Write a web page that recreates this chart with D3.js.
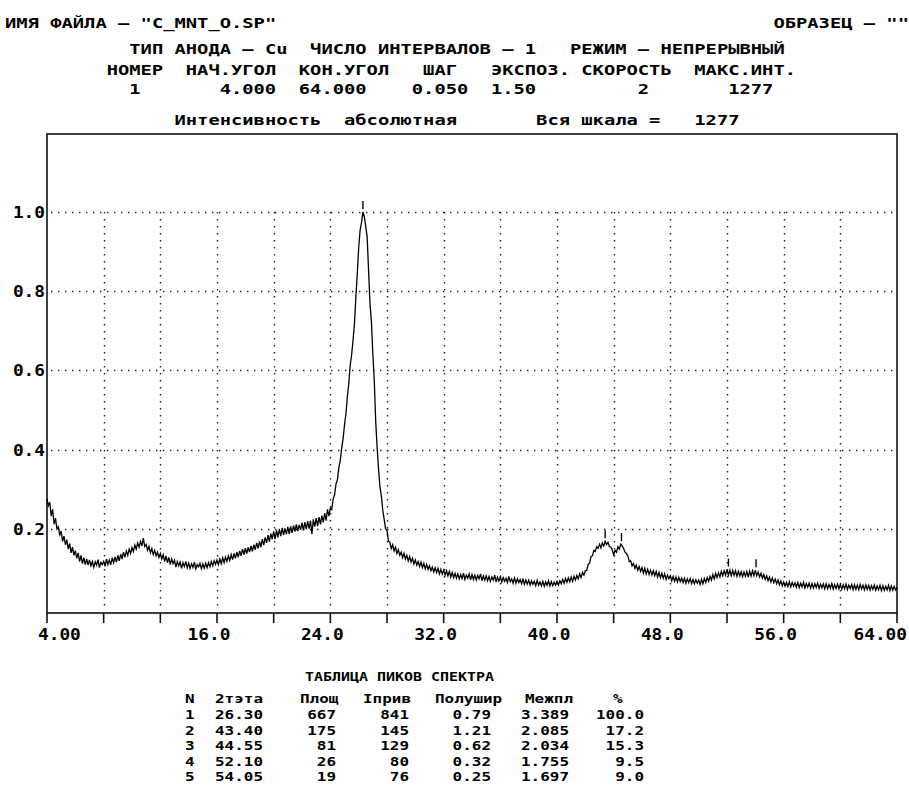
<!DOCTYPE html>
<html>
<head>
<meta charset="utf-8">
<script src="https://cdn.jsdelivr.net/npm/d3@7"></script>
<style>
	body { margin: 0; background: #fff; }
	svg text { font-family: "DejaVu Sans Mono", monospace; font-weight: bold; fill: #000; white-space: pre; }
</style>
</head>
<body>
<svg id="chart"></svg>
<script>
// header of the spectrum file
const headerLine1 = ['ИМЯ ФАЙЛА – "C_MNT_O.SP"', 'ОБРАЗЕЦ – ""'];
const headerLine2 = ['ТИП АНОДА – Cu', 'ЧИСЛО ИНТЕРВАЛОВ – 1', 'РЕЖИМ – НЕПРЕРЫВНЫЙ'];
const paramNames = ['НОМЕР', 'НАЧ.УГОЛ', 'КОН.УГОЛ', 'ШАГ', 'ЭКСПОЗ.', 'СКОРОСТЬ', 'МАКС.ИНТ.'];
const paramValues = ['1', '4.000', '64.000', '0.050', '1.50', '2', '1277'];
const scaleLine = ['Интенсивность  абсолютная', 'Вся шкала =', '1277'];

// scan (counts, every 0.1 deg)
const fullScale = 1277;
const startAngle = 4.0;
const endAngle = 64.0;
const sampleStep = 0.1;
const counts = [
	352,330,341,296,318,270,290,255,262,236,
	248,215,232,204,220,190,208,178,196,170,
	185,160,178,150,170,143,162,140,158,138,
	155,136,150,132,149,138,156,130,147,140,
	150,134,158,140,155,139,162,146,165,148,
	170,152,174,158,180,163,184,170,190,176,
	195,182,203,190,210,196,214,200,225,198,
	205,186,199,178,192,172,186,168,180,163,
	176,158,172,150,168,146,163,140,158,143,
	154,132,150,136,148,128,146,134,150,130,
	145,128,143,131,148,126,140,133,144,127,
	142,128,145,130,146,133,150,136,152,140,
	155,140,158,143,162,146,164,150,168,153,
	172,156,176,160,180,164,184,168,190,172,
	193,175,196,180,200,183,204,188,210,192,
	215,196,222,203,228,210,235,214,240,222,
	247,222,250,228,255,232,258,235,257,238,
	262,238,263,242,266,246,270,248,268,252,
	275,250,277,254,280,256,282,238,286,262,
	290,264,293,270,298,276,306,282,318,296,
	322,318,352,365,400,414,452,476,515,546,
	590,626,680,724,782,815,862,915,1000,1076,
	1160,1218,1242,1277,1262,1230,1196,1088,980,924,
	820,736,604,520,450,392,362,316,286,256,
	250,216,212,192,204,184,196,176,188,170,
	180,162,176,158,170,152,166,148,160,142,
	155,138,150,134,148,130,144,126,140,124,
	136,120,132,116,130,114,128,110,125,109,
	122,106,120,104,118,100,115,98,112,96,
	110,94,108,95,112,92,106,96,110,91,
	108,92,106,90,105,94,110,88,104,90,
	104,88,102,86,100,90,106,84,99,87,
	100,84,98,86,96,82,102,85,94,80,
	97,80,94,82,92,78,95,76,90,77,
	90,74,88,76,86,72,89,74,84,71,
	86,70,84,73,88,71,85,72,83,74,
	86,74,88,78,92,80,95,83,97,85,
	100,86,102,90,105,94,110,98,115,106,
	120,122,140,145,166,168,186,182,198,192,
	206,194,210,200,215,204,212,198,196,188,
	172,186,180,198,190,206,200,192,180,176,
	168,150,152,136,144,128,138,122,134,118,
	130,112,128,110,125,108,122,106,120,104,
	118,100,115,98,112,96,110,92,106,94,
	104,88,102,86,100,84,99,85,97,82,
	96,80,94,82,95,79,92,78,91,80,
	90,76,92,78,95,82,98,86,102,90,
	108,94,112,98,114,100,118,104,120,106,
	124,106,122,104,121,105,120,102,118,103,
	117,101,116,102,118,100,119,103,120,104,
	122,104,116,100,112,96,108,92,104,88,
	100,84,97,82,93,78,90,75,87,72,
	84,70,83,69,85,68,82,70,81,67,
	82,66,80,68,83,65,79,67,80,64,
	79,64,78,66,80,63,77,65,78,62,
	78,62,76,64,79,61,75,63,77,62,
	76,61,75,62,77,60,74,63,76,59,
	75,60,74,59,76,61,73,58,75,60,
	73,58,72,60,74,57,71,59,73,56,
	72,57,70,58,73,56,71,57,70,58,
	66
];

// axes
const yTicks = [0.2, 0.4, 0.6, 0.8, 1.0];
const yTickLabels = ['0.2', '0.4', '0.6', '0.8', '1.0'];
const xTicks = [4, 8, 12, 16, 20, 24, 28, 32, 36, 40, 44, 48, 52, 56, 60, 64];
const xTickLabels = ['4.00', '', '', '16.0', '', '24.0', '', '32.0', '', '40.0', '', '48.0', '', '56.0', '', '64.00'];

// peak table
const tableTitle = 'ТАБЛИЦА ПИКОВ СПЕКТРА';
const tableHeaders = ['N', '2тэта', 'Площ', 'Iприв', 'Полушир', 'Межпл', '%'];
const peakN = [1, 2, 3, 4, 5];
const peakTheta = [26.30, 43.40, 44.55, 52.10, 54.05];
const peakArea = [667, 175, 81, 26, 19];
const peakIred = [841, 145, 129, 80, 76];
const peakFwhm = [0.79, 1.21, 0.62, 0.32, 0.25];
const peakD = [3.389, 2.085, 2.034, 1.755, 1.697];
const peakPct = [100.0, 17.2, 15.3, 9.5, 9.0];


const width = 909;
const height = 810;
const plotTop = 134;
const plotBottom = 613;

const svg = d3.select('#chart')
	.attr('width', width)
	.attr('height', height);

const x = d3.scaleLinear().domain([startAngle, endAngle]).range([47, 897]);
const y = d3.scaleLinear().domain([0, 1]).range([608, 212]);

// text laid on a fixed character cell, glyphs stretched to fill it
function cellText(g, s, px, py, size, cell, anchor) {
	const w = s.length * cell;
	let x0 = px;
	if (anchor == 'end') x0 = px - w;
	if (anchor == 'middle') x0 = px - w / 2;
	return g.append('text')
		.attr('x', x0)
		.attr('y', py)
		.attr('textLength', w)
		.attr('lengthAdjust', 'spacingAndGlyphs')
		.style('font-size', size + 'px')
		.text(s);
}

// --- header, on a 80 column screen grid
const head = svg.append('g');
const cw = 11.3;
const col = c => 5 + c * cw;
const hdr = (s, c, py) => cellText(head, s, col(c), py, 14, cw);

hdr(headerLine1[0], 0, 28);
hdr(headerLine1[1], 68, 28);
[11, 27, 50].forEach((c, i) => hdr(headerLine2[i], c, 54));
[9, 16, 26, 37, 43, 51, 61].forEach((c, i) => hdr(paramNames[i], c, 75));
[11, 19, 26, 36, 43, 56, 64].forEach((c, i) => hdr(paramValues[i], c, 94));
[15, 47, 61].forEach((c, i) => hdr(scaleLine[i], c, 125));

// --- grid
const grid = svg.append('g')
	.attr('stroke', '#222')
	.attr('stroke-width', 1.4)
	.attr('stroke-dasharray', '1.4,5.6');

grid.selectAll('line.h')
	.data(yTicks)
	.join('line')
		.attr('class', 'h')
		.attr('x1', x(startAngle) + 4)
		.attr('x2', x(endAngle))
		.attr('y1', d => Math.round(y(d)) + 0.5)
		.attr('y2', d => Math.round(y(d)) + 0.5);

grid.selectAll('line.v')
	.data(xTicks.slice(1, -1))
	.join('line')
		.attr('class', 'v')
		.attr('x1', d => Math.round(x(d)) + 0.5)
		.attr('x2', d => Math.round(x(d)) + 0.5)
		.attr('y1', y(1))
		.attr('y2', y(0));

// --- frame and ticks
svg.append('rect')
	.attr('x', x(startAngle))
	.attr('y', plotTop)
	.attr('width', x(endAngle) - x(startAngle))
	.attr('height', plotBottom - plotTop)
	.attr('fill', 'none')
	.attr('stroke', '#111')
	.attr('stroke-width', 1.6);

svg.append('g')
	.selectAll('line')
	.data(xTicks)
	.join('line')
		.attr('x1', d => x(d))
		.attr('x2', d => x(d))
		.attr('y1', plotBottom)
		.attr('y2', plotBottom + 10)
		.attr('stroke', '#111')
		.attr('stroke-width', 1.6);

const axisText = svg.append('g');
const acw = 10.7;
yTicks.forEach((t, i) => cellText(axisText, yTickLabels[i], 45, y(t) + 6, 16, acw, 'end'));
xTicks.forEach((t, i) => {
	if (!xTickLabels[i]) return;
	if (i == 0) cellText(axisText, xTickLabels[i], x(t) - 9, 640, 16, acw);
	else if (i == xTicks.length - 1) cellText(axisText, xTickLabels[i], x(t) + 10, 640, 16, acw, 'end');
	else cellText(axisText, xTickLabels[i], x(t) - 8, 640, 16, acw, 'middle');
});

// --- scan line
const line = d3.line()
	.x((d, i) => x(startAngle + i * sampleStep))
	.y(d => y(d / fullScale));

svg.append('path')
	.datum(counts)
	.attr('d', line)
	.attr('fill', 'none')
	.attr('stroke', '#000')
	.attr('stroke-width', 1.3);

// peak markers: short dash above the top of each found peak
const markers = peakTheta.map(t => {
	let top = 0;
	counts.forEach((c, i) => {
		let a = startAngle + i * sampleStep;
		if (Math.abs(a - t) <= 0.2 && c > top) top = c;
	});
	return {t: t, top: top};
});
svg.append('g')
	.selectAll('line')
	.data(markers)
	.join('line')
		.attr('x1', d => x(d.t))
		.attr('x2', d => x(d.t))
		.attr('y1', d => y(d.top / fullScale) - 3)
		.attr('y2', d => y(d.top / fullScale) - 11)
		.attr('stroke', '#000')
		.attr('stroke-width', 1.4);

// --- table of peaks
const tab = svg.append('g');
const tcw = 9.6;
cellText(tab, tableTitle, 305, 681, 13, 9.0);
[185, 215, 300, 363, 435, 525, 613].forEach((px, i) => cellText(tab, tableHeaders[i], px, 703, 13, tcw));

const rowY = [719, 734.5, 750, 765.5, 781];
peakN.forEach((n, r) => {
	const yy = rowY[r];
	cellText(tab, String(n), 185, yy, 13, tcw);
	cellText(tab, peakTheta[r].toFixed(2), 215, yy, 13, tcw);
	cellText(tab, String(peakArea[r]), 336, yy, 13, tcw, 'end');
	cellText(tab, String(peakIred[r]), 409, yy, 13, tcw, 'end');
	cellText(tab, peakFwhm[r].toFixed(2), 491, yy, 13, tcw, 'end');
	cellText(tab, peakD[r].toFixed(3), 569, yy, 13, tcw, 'end');
	cellText(tab, peakPct[r].toFixed(1), 644, yy, 13, tcw, 'end');
});
</script>
</body>
</html>
